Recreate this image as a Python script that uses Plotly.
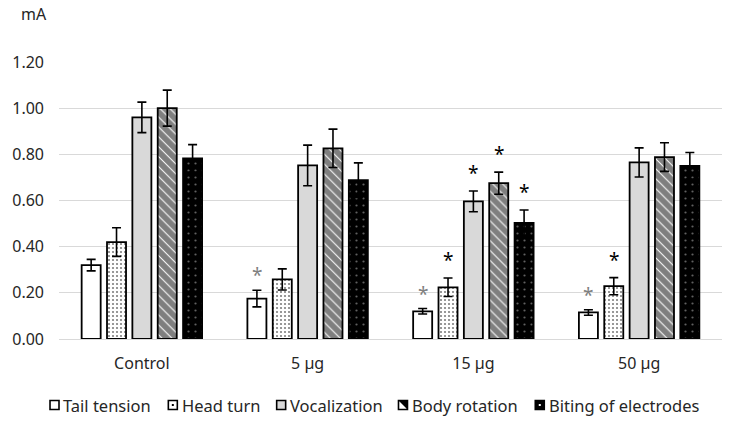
import plotly.graph_objects as go

categories = ["Control", "5 µg", "15 µg", "50 µg"]
series_names = ["Tail tension", "Head turn", "Vocalization", "Body rotation", "Biting of electrodes"]

tail_tension = [0.32, 0.175, 0.12, 0.115]
tail_tension_err = [0.025, 0.036, 0.012, 0.012]
head_turn = [0.42, 0.258, 0.224, 0.229]
head_turn_err = [0.062, 0.046, 0.040, 0.037]
vocalization = [0.96, 0.752, 0.596, 0.765]
vocalization_err = [0.066, 0.088, 0.045, 0.063]
body_rotation = [1.00, 0.826, 0.675, 0.788]
body_rotation_err = [0.078, 0.083, 0.048, 0.062]
biting = [0.782, 0.688, 0.503, 0.750]
biting_err = [0.060, 0.075, 0.056, 0.058]

# significance markers (*) per series and category
tail_tension_sig = [False, True, True, True]
head_turn_sig = [False, False, True, True]
vocalization_sig = [False, False, True, False]
body_rotation_sig = [False, False, True, False]
biting_sig = [False, False, True, False]

y_ticks = [0.0, 0.2, 0.4, 0.6, 0.8, 1.0, 1.2]
y_tick_labels = ["0.00", "0.20", "0.40", "0.60", "0.80", "1.00", "1.20"]
y_unit = "mA"

values = [tail_tension, head_turn, vocalization, body_rotation, biting]
errors = [tail_tension_err, head_turn_err, vocalization_err, body_rotation_err, biting_err]
sigs = [tail_tension_sig, head_turn_sig, vocalization_sig, body_rotation_sig, biting_sig]

# ---- styling ----
W, H = 730, 424
ML, MR, MT, MB = 58.5, 7.5, 62, 85
PW, PH = W - ML - MR, H - MT - MB
FONT = "Noto Sans"
TEXT = "#262626"
BARGAP = 0.235
BARGROUPGAP = 0.25

patterns = [
    dict(shape="", bgcolor="white", fgcolor="white"),
    dict(shape=".", bgcolor="white", fgcolor="black", size=4, solidity=0.22),
    dict(shape="", bgcolor="#d9d9d9", fgcolor="#d9d9d9"),
    dict(shape="\\", bgcolor="white", fgcolor="black", size=7, solidity=0.85),
    dict(shape=".", bgcolor="black", fgcolor="#bfbfbf", size=7, solidity=0.08),
]
fill_colors = ["white", "white", "#d9d9d9", "white", "black"]
star_colors = ["#808080", "black", "black", "black", "black"]
star_shift = [0, 3, 3, 3, 3]


def px_x(px):
    return (px - ML) / PW


def px_y(py):
    return (H - MB - py) / PH


fig = go.Figure()
for name, vals, errs, pat, col in zip(series_names, values, errors, patterns, fill_colors):
    fig.add_trace(go.Bar(
        name=name, x=categories, y=vals, showlegend=False,
        marker=dict(color=col, line=dict(color="black", width=1.8), pattern=pat),
        error_y=dict(type="data", array=errs, visible=True, color="black", thickness=1.6, width=4.5),
    ))

n = len(series_names)
slot = (1 - BARGAP) / n
for i, (vals, errs, sg, sc) in enumerate(zip(values, errors, sigs, star_colors)):
    for k, (v, e, s) in enumerate(zip(vals, errs, sg)):
        if s:
            fig.add_annotation(
                x=k + (i - (n - 1) / 2) * slot, y=v + e, xref="x", yref="y",
                text="*", showarrow=False, yanchor="bottom",
                yshift=star_shift[i], font=dict(family=FONT, size=19, color=sc),
            )

# unit label
fig.add_annotation(
    x=px_x(18), y=px_y(14), xref="paper", yref="paper", text=y_unit, showarrow=False,
    xanchor="left", yanchor="middle", font=dict(family=FONT, size=16, color=TEXT),
)

# legend (drawn manually to match the original compact layout)
legend_square_left = [49.5, 168, 276.5, 398.5, 535.5]
legend_y = 405
sq = 9
for i, (name, col) in enumerate(zip(series_names, fill_colors)):
    x0 = legend_square_left[i]
    fig.add_shape(type="rect", xref="paper", yref="paper",
                  x0=px_x(x0), x1=px_x(x0 + sq), y0=px_y(legend_y + sq / 2), y1=px_y(legend_y - sq / 2),
                  fillcolor=col, line=dict(color="black", width=1.6))
    if i == 1:
        fig.add_shape(type="rect", xref="paper", yref="paper",
                      x0=px_x(x0 + 3.5), x1=px_x(x0 + 5.5), y0=px_y(legend_y + 1), y1=px_y(legend_y - 1),
                      fillcolor="black", line=dict(width=0))
    if i == 3:
        fig.add_shape(type="path", xref="paper", yref="paper",
                      path=f"M {px_x(x0)},{px_y(legend_y - sq/2)} L {px_x(x0 + sq)},{px_y(legend_y + sq/2)} "
                           f"L {px_x(x0 + sq)},{px_y(legend_y - sq/2)} Z",
                      fillcolor="black", line=dict(width=0))
    if i == 4:
        fig.add_shape(type="rect", xref="paper", yref="paper",
                      x0=px_x(x0 + 3.5), x1=px_x(x0 + 5.5), y0=px_y(legend_y + 1), y1=px_y(legend_y - 1),
                      fillcolor="white", line=dict(width=0))
    fig.add_annotation(
        x=px_x(x0 + sq + 2.5), y=px_y(legend_y), xref="paper", yref="paper", text=name,
        showarrow=False, xanchor="left", yanchor="middle",
        font=dict(family=FONT, size=16.5, color=TEXT),
    )

fig.update_layout(
    width=W, height=H,
    margin=dict(l=ML, r=MR, t=MT, b=MB, autoexpand=False),
    paper_bgcolor="white", plot_bgcolor="white",
    barmode="group", bargap=BARGAP, bargroupgap=BARGROUPGAP,
    font=dict(family=FONT, size=16, color=TEXT),
    showlegend=False,
    xaxis=dict(showgrid=False, showline=True, linecolor="#d9d9d9", linewidth=1.3,
               ticks="", ticklabelstandoff=10, automargin=False,
               tickfont=dict(family=FONT, size=16, color=TEXT)),
    yaxis=dict(range=[0, 1.2], tickvals=y_ticks, ticktext=y_tick_labels,
               showgrid=True, gridcolor="#d9d9d9", gridwidth=1.3, zeroline=False,
               showline=False, ticks="", ticklabelstandoff=14, automargin=False,
               tickfont=dict(family=FONT, size=16, color=TEXT)),
)

fig.write_html("out.html", config={"displayModeBar": False},
               post_script="document.body.style.margin='0';")
